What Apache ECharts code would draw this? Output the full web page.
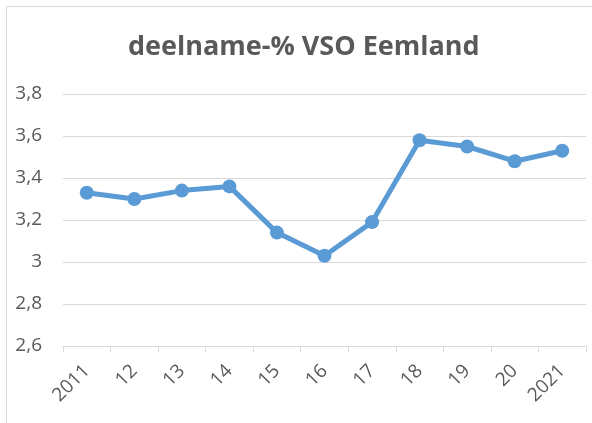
<!DOCTYPE html>
<html><head><meta charset="utf-8">
<script src="https://cdn.jsdelivr.net/npm/echarts@6/dist/echarts.min.js"></script>
<style>html,body{margin:0;padding:0;background:#fff}#c{width:592px;height:423px}</style>
</head><body><div id="c"></div>
<script>
const title = 'deelname-% VSO Eemland';
const categories = ['2011','12','13','14','15','16','17','18','19','20','2021'];
const values = [3.33, 3.30, 3.34, 3.36, 3.14, 3.03, 3.19, 3.58, 3.55, 3.48, 3.53];
const yMin = 2.6, yMax = 3.8, yStep = 0.2;

const chart = echarts.init(document.getElementById('c'), null, {renderer:'canvas'});
const font = '"Open Sans", sans-serif';
chart.setOption({
  animation: false,
  backgroundColor: '#fff',
  graphic: [{
    type: 'rect', shape: {x: 6.5, y: 6.5, width: 700, height: 500},
    style: {fill: 'none', stroke: '#d9d9d9', lineWidth: 1}, silent: true, z: -1
  }],
  title: {
    text: title, left: 128, top: 34, padding: 0,
    textStyle: {fontFamily: font, fontWeight: 'bold', fontSize: 27, color: '#595959'}
  },
  grid: {left: 63, right: 6, top: 94, bottom: 77, containLabel: false},
  xAxis: {
    type: 'category', data: categories, boundaryGap: true,
    axisLine: {lineStyle: {color: '#d9d9d9', width: 1}},
    axisTick: {show: true, length: 6, lineStyle: {color: '#d9d9d9'}},
    axisLabel: {rotate: 45, fontFamily: font, fontSize: 19, color: '#595959', margin: 22}
  },
  yAxis: {
    type: 'value', min: yMin, max: yMax, interval: yStep,
    axisLine: {show: false}, axisTick: {show: false},
    splitLine: {lineStyle: {color: '#d9d9d9', width: 1}},
    axisLabel: {fontFamily: font, fontSize: 19, color: '#595959', margin: 21,
      formatter: v => String(+v.toFixed(1)).replace('.', ',')}
  },
  series: [{
    type: 'line', data: values,
    lineStyle: {color: '#5b9bd5', width: 5},
    itemStyle: {color: '#5b9bd5'},
    symbol: 'circle', symbolSize: 14
  }]
});
</script></body></html>
